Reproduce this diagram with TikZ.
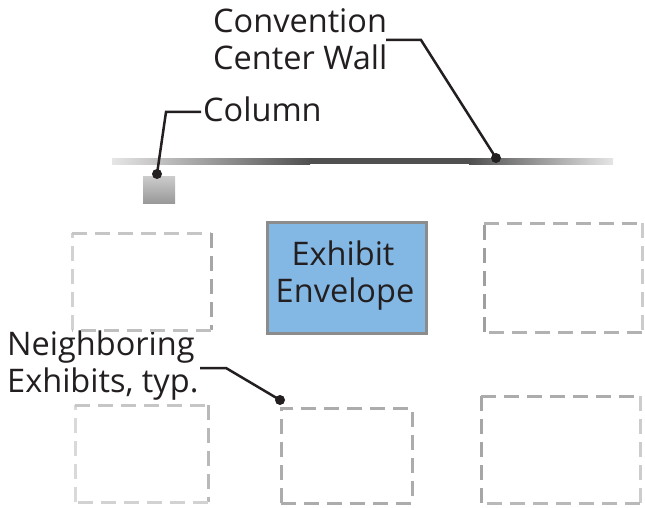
\documentclass[tikz,border=0pt]{standalone}
\usepackage{fontspec}
\setmainfont{Open Sans}
\usetikzlibrary{calc}
\definecolor{ink}{HTML}{231F20}
\definecolor{envfill}{HTML}{84B8E4}
\definecolor{envline}{HTML}{8C8C8C}
\definecolor{walldark}{HTML}{505050}
\begin{document}
\begin{tikzpicture}[x=1pt,y=-1pt,
  lbl/.style={font=\fontsize{32.5}{34}\selectfont, text=ink, inner sep=0pt, anchor=base west},
  leader/.style={draw=ink, line width=2.5pt},
  dot/.style={circle, fill=ink, inner sep=0pt, minimum size=10pt},
  dsh/.style={line width=3pt, dash pattern=on 15pt off 8pt},
]
\useasboundingbox[fill=white] (0,0) rectangle (645,508);

% wall
\shade[left color=gray!20, right color=walldark] (112,158) rectangle (310,164);
\fill[walldark] (309,158) rectangle (470,164);
\shade[left color=walldark, right color=gray!20] (469,158) rectangle (613,164);

% column
\shade[shading angle=135, top color=gray!40, bottom color=gray!80] (143,176) rectangle (175,203);

% labels
\node[lbl] (conv1) at (213,33) {Convention};
\node[lbl] (conv2) at (213,70) {Center Wall};
\node[lbl] (col) at (203,122) {Column};
\node[lbl] (nb1) at (7,355) {Neighboring};
\node[lbl] (nb2) at (7,392) {Exhibits, typ.};

% exhibit envelope
\node[draw=envline, fill=envfill, line width=3pt, minimum width=159pt, minimum height=111pt, inner sep=0pt] (env) at (346.5,277.5) {};
\node[lbl, anchor=base] (ex1) at (343,265) {Exhibit};
\node[lbl, anchor=base] (ex2) at (345,302) {Envelope};

% neighboring exhibits (dashed)
\draw[dsh, draw=gray!35] (72,330) -- (72,233);
\draw[dsh, draw=gray!45] (72,233) -- (211,233);
\draw[dsh, draw=gray!70] (211,233) -- (211,330);
\draw[dsh, draw=gray!50] (211,330) -- (72,330);

\draw[dsh, draw=gray!75] (484,332) -- (484,223);
\draw[dsh, draw=gray!60] (484,223) -- (642,223);
\draw[dsh, draw=gray!40] (642,223) -- (642,332);
\draw[dsh, draw=gray!60] (642,332) -- (484,332);

\draw[dsh, draw=gray!30] (75,502) -- (75,405);
\draw[dsh, draw=gray!45] (75,405) -- (208,405);
\draw[dsh, draw=gray!55] (208,405) -- (208,502);
\draw[dsh, draw=gray!35] (208,502) -- (75,502);

\draw[dsh, draw=gray!65] (281,503) -- (281,408) -- (412,408) -- (412,503) -- cycle;

\draw[dsh, draw=gray!70] (481,503) -- (481,396);
\draw[dsh, draw=gray!65] (481,396) -- (640,396);
\draw[dsh, draw=gray!40] (640,396) -- (640,503);
\draw[dsh, draw=gray!55] (640,503) -- (481,503);

% leader points
\node[dot] (wallpt) at (496,158) {};
\node[dot] (colpt) at (157,174) {};
\node[dot] (nbpt) at (280,400) {};
\coordinate (w0) at (386,40);
\coordinate (w1) at (421,40);
\coordinate (c0) at (201,112);
\coordinate (c1) at (166,112);
\coordinate (n0) at (200,368);
\coordinate (n1) at (226,368);

\draw[leader] (w0) -- (w1) -- (wallpt.center);
\draw[leader] (c0) -- (c1) -- (colpt.center);
\draw[leader] (n0) -- (n1) -- (nbpt.center);
\end{tikzpicture}
\end{document}
